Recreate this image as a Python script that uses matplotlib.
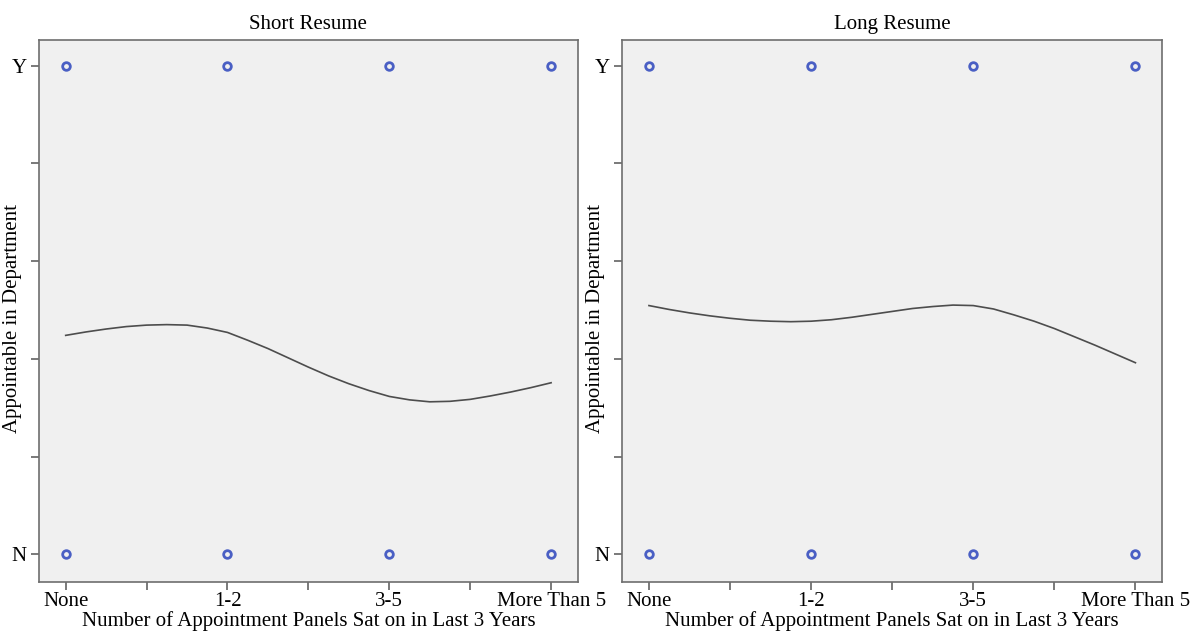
import numpy as np
import matplotlib.pyplot as plt
from matplotlib.ticker import FixedLocator

# -------- data -----------------------------------------

categories = ["None", "1-2", "3-5", "More Than 5"]
cat_pos = [1, 2, 3, 4]
y_labels = ["N", "Y"]

# observed responses (both N and Y present for every category)
obs_short = [0, 1]
obs_long = [0, 1]

# smoothed fit curves, sampled every eighth of a category
curve_x = [1.0, 1.125, 1.25, 1.375, 1.5, 1.625, 1.75, 1.875, 2.0,
           2.125, 2.25, 2.375, 2.5, 2.625, 2.75, 2.875, 3.0,
           3.125, 3.25, 3.375, 3.5, 3.625, 3.75, 3.875, 4.0]
curve_short = [0.448, 0.455, 0.461, 0.466, 0.469, 0.470, 0.469, 0.463, 0.454,
               0.438, 0.421, 0.402, 0.383, 0.365, 0.349, 0.335, 0.323,
               0.316, 0.312, 0.313, 0.317, 0.324, 0.332, 0.341, 0.351]
curve_long = [0.509, 0.501, 0.494, 0.488, 0.483, 0.479, 0.477, 0.476, 0.477,
              0.480, 0.485, 0.491, 0.497, 0.503, 0.507, 0.510, 0.509,
              0.502, 0.490, 0.477, 0.462, 0.445, 0.428, 0.410, 0.392]

titles = ["Short Resume", "Long Resume"]

plt.rcParams['font.family'] = ['Liberation Serif', 'DejaVu Serif']

fig = plt.figure(figsize=(12, 6.32), dpi=100)
ax1 = fig.add_axes([0.0325, 0.079, 0.449, 0.858])
ax2 = fig.add_axes([0.5185, 0.079, 0.450, 0.858])

fs = 15

for ax, title, obs, curve in zip([ax1, ax2], titles, [obs_short, obs_long],
                                 [curve_short, curve_long]):
    ax.set_facecolor('#f0f0f0')
    for v in obs:
        ax.plot(cat_pos, [v] * len(cat_pos), linestyle='none', marker='o',
                markersize=5.5, markerfacecolor='none', markeredgecolor='#4a5fc4',
                markeredgewidth=2.0, zorder=3)
    ax.plot(curve_x, curve, color='#4d4d4d', lw=1.2, zorder=2)

    ax.set_xlim(0.835, 4.165)
    ax.set_ylim(-0.057, 1.053)
    ax.set_xticks(cat_pos)
    ax.set_xticklabels(categories, fontsize=fs)
    ax.xaxis.set_minor_locator(FixedLocator([1.5, 2.5, 3.5]))
    ax.set_yticks([0, 1])
    ax.set_yticklabels(y_labels, fontsize=fs)
    ax.yaxis.set_minor_locator(FixedLocator([0.2, 0.4, 0.6, 0.8]))
    ax.tick_params(which='both', direction='out', length=6, width=1.1,
                   color='#555555', pad=1)
    ax.tick_params(axis='y', pad=3)
    for s in ax.spines.values():
        s.set_color('#6e6e6e')
        s.set_linewidth(1.2)

    ax.set_title(title, fontsize=fs, pad=8)
    ax.set_xlabel("Number of Appointment Panels Sat on in Last 3 Years",
                  fontsize=fs, labelpad=0)
    ax.set_ylabel("Appointable in Department", fontsize=fs)
    ax.yaxis.set_label_coords(-0.032, 0.486)

fig.savefig('out.png', dpi=100)
